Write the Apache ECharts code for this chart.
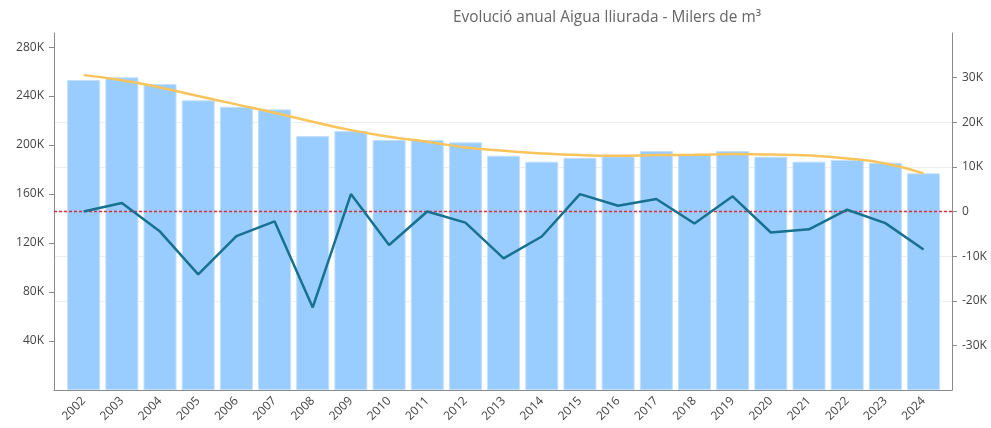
<!DOCTYPE html>
<html>
<head>
<meta charset="utf-8">
<script src="https://cdn.jsdelivr.net/npm/echarts@6/dist/echarts.min.js"></script>
<style>
  html, body { margin: 0; padding: 0; background: #fff; }
  #chart { width: 991px; height: 428px; }
</style>
</head>
<body>
<div id="chart"></div>
<script>
// categories
const years = ['2002', '2003', '2004', '2005', '2006', '2007', '2008', '2009', '2010', '2011', '2012',
  '2013', '2014', '2015', '2016', '2017', '2018', '2019', '2020', '2021', '2022', '2023', '2024'];
// water delivered (thousands of m3), left axis
const waterDelivered = [253100, 255300, 249800, 236500, 231300, 229100, 207300, 211400, 204100, 204100, 202200,
  191300, 186400, 189600, 190700, 195100, 191800, 195100, 190500, 186400, 187800, 185600, 176900];
// smoothed trend, left axis
const trend = [257100, 253000, 247000, 240000, 233200, 226400, 219000, 212200, 206800, 202700, 198100,
  195400, 193200, 191800, 191300, 191800, 192100, 192600, 192300, 191500, 189100, 185000, 176900];
// change from previous year, right axis
const yearChange = [0, 1900, -4500, -14100, -5500, -2200, -21500, 3900, -7500, 0, -2500,
  -10500, -5600, 3900, 1300, 2800, -2700, 3400, -4700, -4000, 400, -2600, -8500];
// zero reference on the right axis
const zeroLevel = 0;
// tick labels
const leftTicks = [40000, 80000, 120000, 160000, 200000, 240000, 280000];
const rightTicks = [-30000, -20000, -10000, 0, 10000, 20000, 30000];

const fmtK = v => v === 0 ? '0' : (v / 1000) + 'K';
const axisGray = '#8a8a8a';
const textGray = '#444';
const zeroRed = '#dc2f3d';

const chart = echarts.init(document.getElementById('chart'));
chart.setOption({
  animation: false,
  textStyle: { fontFamily: 'Open Sans' },
  title: {
    text: 'Evolució anual Aigua Iliurada - Milers de m³',
    left: 602,
    textAlign: 'center',
    top: 5,
    textStyle: { fontFamily: 'Open Sans', fontSize: 15.4, fontWeight: 'normal', color: '#666' }
  },
  grid: [
    // outer frame: axes lines, labels, gridlines
    { left: 54, right: 39, top: 33, bottom: 38 },
    // inner plotting area for the category bands
    { left: 64.6, right: 48.4, top: 33, bottom: 38 }
  ],
  xAxis: [
    {
      type: 'value', gridIndex: 0, min: 0, max: 1,
      axisLine: { show: true, onZero: false, lineStyle: { color: axisGray, width: 1 } },
      axisTick: { show: false }, axisLabel: { show: false }, splitLine: { show: false }
    },
    {
      type: 'category', gridIndex: 1, data: years,
      axisLine: { show: false }, axisTick: { show: false },
      axisLabel: { rotate: 45, margin: 9, fontSize: 12, color: textGray, fontFamily: 'Open Sans' }
    }
  ],
  yAxis: [
    {
      type: 'value', gridIndex: 0, position: 'left', min: 0, max: 291500,
      axisLine: { show: true, lineStyle: { color: axisGray } },
      axisTick: { show: true, length: 5, customValues: leftTicks, lineStyle: { color: axisGray } },
      axisLabel: { customValues: leftTicks, formatter: fmtK, fontSize: 12, color: textGray, margin: 10 },
      splitLine: { show: false }
    },
    {
      type: 'value', gridIndex: 0, position: 'right', min: -40000, max: 40000, interval: 10000,
      axisLine: { show: true, lineStyle: { color: axisGray } },
      axisTick: { show: true, length: 5, customValues: rightTicks, lineStyle: { color: axisGray } },
      axisLabel: { customValues: rightTicks, formatter: fmtK, fontSize: 12, color: textGray, margin: 10 },
      splitLine: { show: true, showMinLine: false, showMaxLine: false, lineStyle: { color: '#eeeeee', width: 1 } }
    },
    { type: 'value', gridIndex: 1, min: 0, max: 291500, show: false },
    { type: 'value', gridIndex: 1, min: -40000, max: 40000, show: false }
  ],
  series: [
    {
      name: 'Aigua lliurada',
      type: 'bar',
      xAxisIndex: 1, yAxisIndex: 2,
      data: waterDelivered,
      barWidth: 33,
      itemStyle: { color: '#99ccff', borderColor: '#c4e0fd', borderWidth: 1 }
    },
    {
      name: 'zero',
      type: 'line',
      xAxisIndex: 0, yAxisIndex: 1,
      data: [[0, zeroLevel], [1, zeroLevel]],
      showSymbol: false,
      silent: true,
      z: 3,
      lineStyle: { color: zeroRed, type: [3, 2], width: 1.4 }
    },
    {
      name: 'Tendència',
      type: 'line',
      xAxisIndex: 1, yAxisIndex: 2,
      data: trend,
      smooth: true,
      showSymbol: false,
      z: 4,
      lineStyle: { color: '#f9c45c', width: 2.5 }
    },
    {
      name: 'Variació anual',
      type: 'line',
      xAxisIndex: 1, yAxisIndex: 3,
      data: yearChange,
      showSymbol: false,
      z: 4,
      lineStyle: { color: '#17718f', width: 2.5 }
    }
  ]
});
</script>
</body>
</html>
